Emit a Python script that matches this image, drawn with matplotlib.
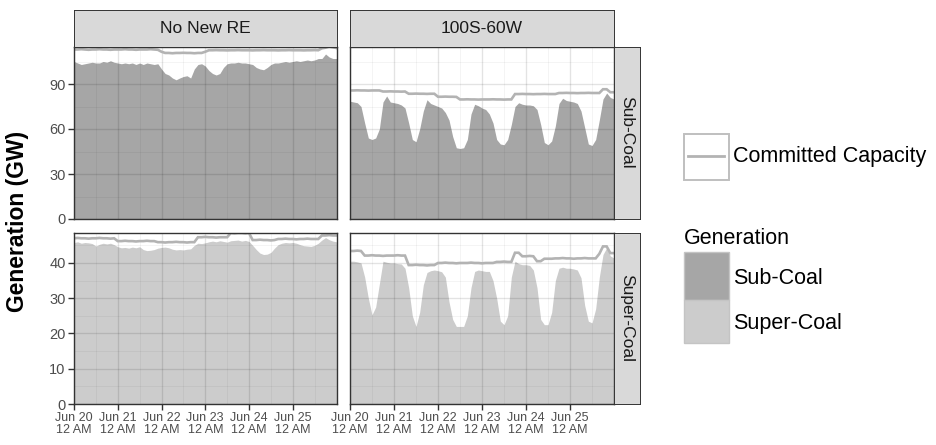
import numpy as np
import matplotlib
matplotlib.use("Agg")
import matplotlib.pyplot as plt
from matplotlib.patches import Rectangle
from matplotlib.lines import Line2D

plt.rcParams['font.family'] = ['Liberation Sans', 'DejaVu Sans']

# ---- data: hours after Jun 20 12 AM, 2-hour steps ----
hours = np.arange(0, 145, 2)

day_ticks = [0, 24, 48, 72, 96, 120]
day_labels = ["Jun 20\n12 AM", "Jun 21\n12 AM", "Jun 22\n12 AM",
              "Jun 23\n12 AM", "Jun 24\n12 AM", "Jun 25\n12 AM"]

scenarios = ["No New RE", "100S-60W"]
techs = ["Sub-Coal", "Super-Coal"]

# No New RE
base_sub_gen = [105, 104, 103, 103.5, 104, 104.5, 104, 104, 105, 104.5, 105.5, 104.5,
                104, 103.5, 104, 103.5, 104, 103, 104, 103, 104, 103.5, 103, 103.5,
                100, 97, 96, 94, 92.8, 94, 95, 95.5, 94, 100, 103, 103.5,
                102, 99, 97, 96, 97, 101, 103.5, 104, 104, 104.5, 104, 104,
                103.5, 103, 101, 100, 99.5, 101, 103, 104, 104, 104.5, 105, 104.5,
                105, 105.5, 105, 105.5, 106, 105.5, 106, 107, 107, 110, 108, 107, 107]
base_sub_cap = [113, 113, 113.2, 113, 112.8, 113, 113, 113.2, 113, 113, 112.8, 113,
                113, 113, 113.2, 113, 113, 112.8, 113, 113, 113, 113.2, 113, 112.8,
                111.5, 110.7, 110.7, 110.5, 110.7, 110.7, 110.8, 110.7, 110.7, 110.5, 110.7, 110.7,
                111.5, 112.5, 112.5, 112.6, 112.5, 112.5, 112.4, 112.5, 112.5, 112.6, 112.5, 112.5,
                112.5, 112.4, 112.5, 112.5, 112.6, 112.5, 112.5, 112.5, 112.4, 112.5, 112.5, 112.6,
                112.5, 112.5, 112.5, 112.4, 112.5, 112.5, 112.6, 112.5, 113.8, 114.2, 115, 114.5, 114]
base_sup_gen = [45.8, 46, 45.6, 45.8, 45.7, 45.5, 44.8, 45.3, 45.6, 45.4, 45.6, 45.2,
                44.6, 44.3, 44.4, 44.2, 44.5, 44.3, 44.6, 43.8, 43.5, 43.6, 43.8, 44.2,
                44.4, 44.5, 44.3, 43.9, 43.7, 43.8, 43.7, 43.9, 44.0, 45.0, 45.6, 45.5,
                45.7, 46.0, 46.2, 46.0, 46.3, 46.1, 45.9, 46.3, 46.4, 46.5, 46.2, 46.4,
                46.1, 45.0, 43.8, 42.8, 42.4, 42.5, 43.0, 44.2, 45.2, 45.6, 45.8, 45.7,
                45.8, 45.6, 45.2, 44.9, 44.8, 44.7, 45.0, 45.6, 46.5, 47.2, 46.6, 46.2, 46.0]
base_sup_cap = [47.0, 47.1, 47.0, 47.0, 46.9, 47.0, 47.0, 47.1, 47.0, 47.0, 46.9, 47.0,
                46.2, 46.2, 46.3, 46.2, 46.2, 46.1, 46.2, 46.2, 46.3, 46.2, 46.2,
                45.9, 45.9, 45.8, 45.9, 45.9, 46.0, 45.9, 45.9, 45.8, 45.9, 45.9,
                47.3, 47.3, 47.4, 47.3, 47.3, 47.2, 47.3, 47.3, 47.3,
                48.5, 48.4, 48.5, 48.5, 48.4, 48.5,
                46.5, 46.5, 46.6, 46.5, 46.5, 46.4, 46.5,
                46.8, 46.8, 46.9, 46.8, 46.8, 46.7, 46.8, 46.8, 46.9, 46.8, 46.8, 46.8,
                47.8, 47.8, 47.9, 47.8, 47.8]

# 100S-60W
re_sub_gen = [78.5, 78, 77.5, 75, 64, 54, 53, 54, 60, 78, 82, 78,
              77.5, 77, 76, 74, 64, 53, 51.5, 60, 72, 79.5, 77, 76,
              75, 74, 71, 66, 55, 47.5, 47, 47.5, 53, 70, 76.5, 75.5,
              74, 73, 70, 64, 53, 50, 49.5, 53, 63, 75, 77.5, 76.5,
              76, 76, 75.5, 73, 63, 51, 49.5, 52, 62, 77, 80.5, 79,
              78.5, 78, 77, 72, 61, 50, 49, 53, 66, 80, 84, 81, 80]
re_sub_cap = [85.7, 85.7, 85.8, 85.7, 85.7, 85.6, 85.7, 85.7, 85.7,
              85.0, 85.0, 85.1, 85.0, 85.0, 84.9, 85.0,
              83.5, 83.5, 83.6, 83.5, 83.5, 83.4, 83.5, 83.5,
              81.5, 81.5, 81.6, 81.5, 81.5, 81.4,
              79.7, 79.7, 79.8, 79.7, 79.7, 79.6, 79.7, 79.7, 79.7, 79.8, 79.7, 79.7, 79.6, 79.7, 79.7,
              83.3, 83.3, 83.4, 83.3, 83.3, 83.2, 83.3, 83.3, 83.4, 83.3, 83.3, 83.3,
              84.0, 84.0, 84.1, 84.0, 84.0, 83.9, 84.0, 84.0, 84.1, 84.0, 84.0, 84.0,
              86.5, 86.5, 84.5, 84.5]
re_sup_gen = [40.5, 40.5, 40.3, 40, 36, 30, 25.3, 27.5, 34, 40.5, 40.2, 40,
              40, 39.8, 39.7, 38.5, 33, 25, 22, 26, 33.8, 37.3, 37.8, 38,
              37.8, 37.5, 36, 29, 24, 22, 22, 22, 25, 33, 37.6, 38,
              37.8, 37.6, 37.6, 35, 30, 23.5, 22.5, 25, 36, 40.5, 39.8, 39.5,
              39.5, 39.3, 38, 33, 24, 22.5, 22.5, 26, 35, 38.5, 38.8, 38.5,
              38.5, 38.3, 38, 35.8, 28, 23.5, 23, 27, 36, 42.4, 44.3, 42, 41.4]
re_sup_cap = [43.4, 43.4, 43.5, 43.4,
              42.1, 42.1, 42.2, 42.1, 42.1, 42.0, 42.1, 42.1, 42.1, 42.2, 42.1, 42.1,
              39.4, 39.4, 39.5, 39.4, 39.4, 39.3, 39.4, 39.4,
              40.0, 40.0, 40.1, 40.0, 40.0, 39.9, 40.0, 40.0, 40.0, 40.1, 40.0, 40.0, 39.9, 40.0, 40.0, 40.0,
              40.3, 40.3, 40.4, 40.3, 40.3,
              42.9, 42.9,
              41.9, 41.9, 42.0, 41.9,
              40.5, 40.5,
              41.2, 41.2, 41.2,
              41.3, 41.3, 41.4, 41.3, 41.3, 41.2, 41.3, 41.3, 41.4, 41.3, 41.3, 41.3,
              42.6, 44.7, 44.7, 42.8, 42.8]

generation = {("No New RE", "Sub-Coal"): base_sub_gen,
              ("No New RE", "Super-Coal"): base_sup_gen,
              ("100S-60W", "Sub-Coal"): re_sub_gen,
              ("100S-60W", "Super-Coal"): re_sup_gen}
committed = {("No New RE", "Sub-Coal"): base_sub_cap,
             ("No New RE", "Super-Coal"): base_sup_cap,
             ("100S-60W", "Sub-Coal"): re_sub_cap,
             ("100S-60W", "Super-Coal"): re_sup_cap}

y_ticks = {"Sub-Coal": [0, 30, 60, 90], "Super-Coal": [0, 10, 20, 30, 40]}
y_minor = {"Sub-Coal": [15, 45, 75, 105], "Super-Coal": [5, 15, 25, 35, 45]}

fill_colors = {"Sub-Coal": "#a6a6a6", "Super-Coal": "#cccccc"}
cap_color = "#b3b3b3"
text_grey = "#4d4d4d"
frame = "#333333"
strip_bg = "#d9d9d9"

# ---- layout (pixel boxes) ----
W, H = 936, 445
fig = plt.figure(figsize=(W / 100, H / 100), dpi=100)
fig.patch.set_facecolor("white")


def box(x0, y0, x1, y1):
    return [x0 / W, 1 - y1 / H, (x1 - x0) / W, (y1 - y0) / H]


col_x = [(74, 336.5), (350, 614)]
row_y = [(46.5, 219), (233, 404)]

for r, tech in enumerate(techs):
    row_top = max(max(committed[(s, tech)]) for s in scenarios)
    for c, scen in enumerate(scenarios):
        ax = fig.add_axes(box(col_x[c][0], row_y[r][0], col_x[c][1], row_y[r][1]))
        ax.set_facecolor("white")
        gen = generation[(scen, tech)]
        cap = committed[(scen, tech)]
        ax.fill_between(hours, 0, gen, color=fill_colors[tech], lw=0, zorder=1)
        ax.plot(hours, cap, color=cap_color, lw=1.9, zorder=3,
                solid_joinstyle="miter")
        ax.set_xlim(0, 144)
        ax.set_ylim(0, row_top)
        ax.set_xticks(day_ticks)
        ax.set_xticks([d + 12 for d in day_ticks], minor=True)
        ax.set_yticks(y_ticks[tech])
        ax.set_yticks(y_minor[tech], minor=True)
        ax.grid(which="major", color="black", alpha=0.11, lw=1.0, zorder=2)
        ax.grid(which="minor", color="black", alpha=0.05, lw=0.6, zorder=2)
        ax.set_axisbelow(False)
        for sp in ax.spines.values():
            sp.set_color(frame)
            sp.set_linewidth(1.0)
            sp.set_zorder(5)
        ax.tick_params(which="minor", length=0)
        ax.tick_params(which="major", color=frame, width=1.0, length=4,
                       labelcolor=text_grey)
        if r == 1:
            ax.set_xticklabels(day_labels, fontsize=9, linespacing=0.95)
            ax.tick_params(axis="x", pad=2)
        else:
            ax.tick_params(axis="x", bottom=False, labelbottom=False)
        if c == 0:
            ax.set_yticklabels([str(v) for v in y_ticks[tech]], fontsize=10.5)
            ax.tick_params(axis="y", pad=2)
        else:
            ax.tick_params(axis="y", left=False, labelleft=False)

# column strips
for c, scen in enumerate(scenarios):
    sax = fig.add_axes(box(col_x[c][0], 10, col_x[c][1], 46.5))
    sax.set_facecolor(strip_bg)
    sax.set_xticks([])
    sax.set_yticks([])
    for sp in sax.spines.values():
        sp.set_color(frame)
        sp.set_linewidth(0.7)
    sax.text(0.5, 0.5, scen, ha="center", va="center", fontsize=12.5,
             color="#1a1a1a", transform=sax.transAxes)

# row strips
for r, tech in enumerate(techs):
    sax = fig.add_axes(box(614, row_y[r][0], 640, row_y[r][1]))
    sax.set_facecolor(strip_bg)
    sax.set_xticks([])
    sax.set_yticks([])
    for sp in sax.spines.values():
        sp.set_color(frame)
        sp.set_linewidth(0.7)
    sax.text(0.5, 0.5, tech, ha="center", va="center", fontsize=12.5,
             rotation=-90, color="#1a1a1a", transform=sax.transAxes)

# axis title
fig.text(18 / W, 1 - 221 / H, "Generation (GW)", rotation=90, ha="center",
         va="center", fontsize=16.5, fontweight="bold", color="black")

# ---- legend ----
def fx(x):
    return x / W


def fy(y):
    return 1 - y / H


fig.patches.append(Rectangle((fx(683.5), fy(180)), 45.5 / W, 46.5 / H,
                             transform=fig.transFigure, facecolor="white",
                             edgecolor="#bfbfbf", lw=1.4))
fig.lines.append(Line2D([fx(688), fx(724)], [fy(156), fy(156)],
                        transform=fig.transFigure, color=cap_color, lw=2.0))
fig.text(fx(733), fy(157), "Committed Capacity", ha="left", va="center",
         fontsize=15.5, color="black")

fig.text(fx(684), fy(238), "Generation", ha="left", va="center",
         fontsize=15.5, color="black")
fig.patches.append(Rectangle((fx(683.5), fy(300)), 45.5 / W, 48 / H,
                             transform=fig.transFigure,
                             facecolor=fill_colors["Sub-Coal"],
                             edgecolor="#c4c4c4", lw=1.0))
fig.patches.append(Rectangle((fx(683.5), fy(343)), 45.5 / W, 43 / H,
                             transform=fig.transFigure,
                             facecolor=fill_colors["Super-Coal"],
                             edgecolor="#c4c4c4", lw=1.0))
fig.text(fx(733), fy(278), "Sub-Coal", ha="left", va="center",
         fontsize=15.5, color="black")
fig.text(fx(733), fy(323), "Super-Coal", ha="left", va="center",
         fontsize=15.5, color="black")

fig.savefig("out.png", dpi=100, facecolor="white")
